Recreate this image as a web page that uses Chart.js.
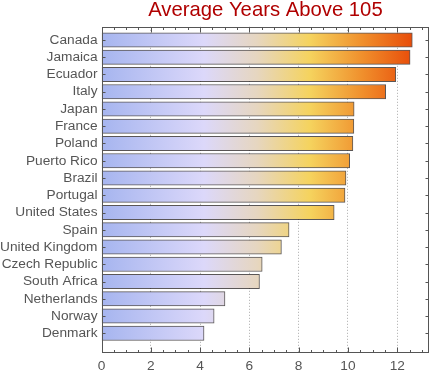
<!DOCTYPE html>
<html>
<head>
<meta charset="utf-8">
<script src="https://cdn.jsdelivr.net/npm/chart.js@4.4.0/dist/chart.umd.min.js"></script>
<style>
body{margin:0;background:#fff;}
</style>
</head>
<body>
<canvas id="myChart" width="435" height="374"></canvas>
<script>
const countries = ['Canada','Jamaica','Ecuador','Italy','Japan','France','Poland','Puerto Rico','Brazil','Portugal','United States','Spain','United Kingdom','Czech Republic','South Africa','Netherlands','Norway','Denmark']
const avgYears = [12.61,12.52,11.94,11.53,10.25,10.24,10.2,10.07,9.92,9.88,9.44,7.61,7.3,6.52,6.41,5.01,4.57,4.16]
const xTicks = [0,2,4,6,8,10,12]
const xMinorStep = 0.5

Chart.defaults.font.family = "'Liberation Sans', Arial, sans-serif"
const ctx = document.getElementById('myChart').getContext('2d')

// same colour at the same x for every bar
function barGradient(context){
    const chart = context.chart
    const {chartArea, scales} = chart
    if(!chartArea) return '#ccc'
    const x0 = scales.x.getPixelForValue(0)
    const x1 = scales.x.getPixelForValue(Math.max(...avgYears))
    const g = chart.ctx.createLinearGradient(x0, 0, x1, 0)
    g.addColorStop(0, '#a6b5ef')
    g.addColorStop(0.33, '#dcd8fa')
    g.addColorStop(0.5, '#e6d6c0')
    g.addColorStop(0.67, '#f5d35e')
    g.addColorStop(0.84, '#f08f2c')
    g.addColorStop(1, '#e84d0a')
    return g
}

// frame with inward ticks on all four sides
const framePlugin = {
    id: 'frame',
    afterDatasetsDraw(chart){
        const c = chart.ctx
        const a = chart.chartArea
        const x = chart.scales.x, y = chart.scales.y
        const L = Math.round(a.left) + 0.5, R = Math.round(a.right) - 0.5
        const T = Math.round(a.top) + 0.5, B = Math.round(a.bottom) - 0.5
        c.save()
        c.strokeStyle = '#555'
        c.lineWidth = 1
        c.strokeRect(L, T, R - L, B - T)
        c.beginPath()
        for(let v = 0; v <= x.max; v += xMinorStep){
            const px = Math.round(x.getPixelForValue(v)) + 0.5
            const len = xTicks.includes(v) ? 5 : 2.5
            c.moveTo(px, B); c.lineTo(px, B - len)
            c.moveTo(px, T); c.lineTo(px, T + len)
        }
        countries.forEach((n, i) => {
            const py = Math.round(y.getPixelForValue(i)) + 0.5
            c.moveTo(L, py); c.lineTo(L + 3, py)
            c.moveTo(R, py); c.lineTo(R - 3, py)
        })
        c.stroke()
        c.restore()
    }
}

const myChart = new Chart(ctx, {
    type: 'bar',
    data: {
        labels: countries,
        datasets: [{
            data: avgYears.map((v, i) => ({x: v, y: i})),
            backgroundColor: barGradient,
            borderColor: 'rgba(35,30,30,0.75)',
            borderWidth: 1,
            borderSkipped: false,
            barThickness: 14.4
        }]
    },
    options: {
        responsive: false,
        animation: false,
        indexAxis: 'y',
        layout: {padding: {top: 0, right: 5.7, bottom: 0, left: 0}},
        plugins: {
            legend: {display: false},
            tooltip: {enabled: false},
            title: {
                display: true,
                text: 'Average Years Above 105',
                color: '#b00000',
                fullSize: false,
                font: {size: 20.3, weight: 'normal', lineHeight: 1},
                padding: {top: 0.5, bottom: 6}
            }
        },
        scales: {
            x: {
                type: 'linear',
                min: 0,
                max: 13.3,
                afterFit(s){ s.height = 21 },
                ticks: {stepSize: 2, includeBounds: false, color: '#555', font: {size: 13.7}, padding: 5},
                grid: {
                    drawTicks: false,
                    color: c => (c.tick && c.tick.value === 0) ? 'rgba(0,0,0,0)' : '#aaa'
                },
                border: {display: false, dash: [1, 2]}
            },
            y: {
                type: 'linear',
                reverse: true,
                offset: false,
                min: -0.76,
                max: 18.14,
                afterBuildTicks(s){ s.ticks = countries.map((n, i) => ({value: i})) },
                afterFit(s){ s.width = 101.5 },
                ticks: {callback: v => countries[v], color: '#555', font: {size: 13.7}, padding: 4, autoSkip: false},
                grid: {display: false, drawTicks: false},
                border: {display: false}
            }
        }
    },
    plugins: [framePlugin]
})
</script>
</body>
</html>
